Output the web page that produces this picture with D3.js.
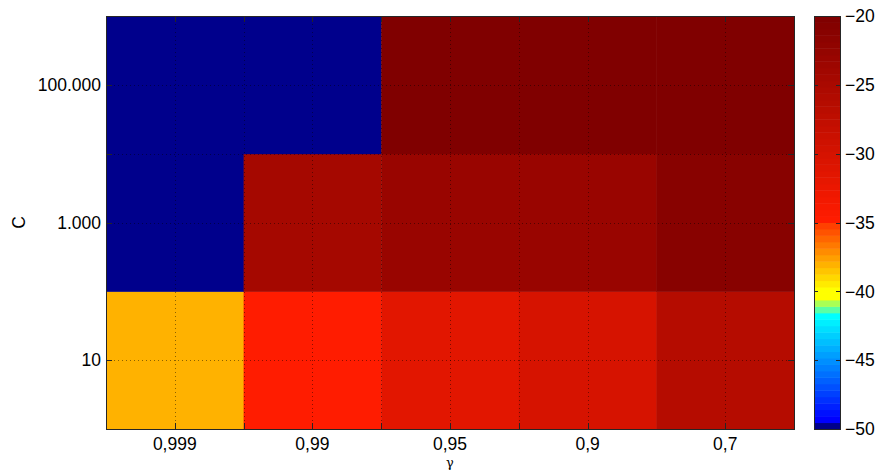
<!DOCTYPE html>
<html>
<head>
<meta charset="utf-8">
<script src="https://cdn.jsdelivr.net/npm/d3@7"></script>
<style>
  html, body { margin: 0; padding: 0; background: #fff; }
  svg { display: block; font-family: "Liberation Sans", Arial, Helvetica, sans-serif; }
</style>
</head>
<body>
<svg id="chart" width="875" height="471"></svg>
<script>
// heatmap: C vs gamma, colour = score

const gammaLabels = ['0,999', '0,99', '0,95', '0,9', '0,7']
const cLabels = ['10', '1.000', '100.000']   // bottom → top

// rows follow cLabels, columns follow gammaLabels
const row10 = [-38.0, -34.6, -31.4, -30.1, -26.3]
const row1000 = [-50, -24.3, -23.2, -23.1, -21.2]
const row100000 = [-50, -50, -20, -20, -20]
const values = [row10, row1000, row100000]

const xTickPos = [1, 1.5, 2, 2.5, 3, 3.5, 4, 5]
const yTickPos = [1, 2, 2.5, 3]
const cbarTicks = [-20, -25, -30, -35, -40, -45, -50]
const cRange = [-50, -20]
const nLevels = 64

const plot = { left: 106, right: 794, top: 16, bottom: 429 }
const cbar = { left: 814, right: 840 }

const svg = d3.select('#chart')

// colour map, 64 levels (non-uniform jet-like)
function levelColor(k) {
  const lerp = (a, b, t) => a.map((v, i) => Math.round(v + (b[i] - v) * t))
  let c
  if (k === 0) c = [0, 0, 140]
  else if (k <= 17) c = lerp([0, 0, 255], [0, 255, 255], (k - 1) / 16)
  else if (k === 18) c = [90, 255, 165]
  else if (k === 19) c = [170, 255, 85]
  else if (k <= 21) c = [255, 255, 0]
  else if (k <= 31) c = lerp([255, 235, 0], [255, 64, 0], (k - 22) / 9)
  else c = lerp([255, 28, 0], [128, 0, 0], (k - 32) / 31)
  return `rgb(${c[0]},${c[1]},${c[2]})`
}
const levelOf = d3.scaleQuantize().domain(cRange).range(d3.range(nLevels))
const color = v => levelColor(levelOf(Math.max(cRange[0], Math.min(cRange[1], v))))

const x = d3.scaleLinear().domain([0.5, gammaLabels.length + 0.5]).range([plot.left, plot.right])
const y = d3.scaleLinear().domain([0.5, cLabels.length + 0.5]).range([plot.bottom, plot.top])

// Cells
const cells = []
values.forEach((row, r) => row.forEach((v, c) => cells.push({ r: r + 1, c: c + 1, v })))

svg.append('g').attr('class', 'cells')
  .selectAll('rect')
  .data(cells)
  .join('rect')
  .attr('x', d => x(d.c - 0.5))
  .attr('y', d => y(d.r + 0.5))
  .attr('width', d => x(d.c + 0.5) - x(d.c - 0.5) + 0.5)
  .attr('height', d => y(d.r - 0.5) - y(d.r + 0.5) + 0.5)
  .attr('fill', d => color(d.v))

// Grid (dotted)
const grid = svg.append('g').attr('class', 'grid')
  .attr('stroke', '#000').attr('stroke-opacity', 0.45)
  .attr('stroke-width', 1).attr('stroke-dasharray', '1,3')
grid.selectAll('line.gx').data(xTickPos).join('line').attr('class', 'gx')
  .attr('x1', d => Math.round(x(d)) + 0.5).attr('x2', d => Math.round(x(d)) + 0.5)
  .attr('y1', plot.top).attr('y2', plot.bottom)
grid.selectAll('line.gy').data(yTickPos).join('line').attr('class', 'gy')
  .attr('y1', d => Math.round(y(d)) + 0.5).attr('y2', d => Math.round(y(d)) + 0.5)
  .attr('x1', plot.left).attr('x2', plot.right)

// Ticks (inward, all four sides)
const tickLen = 6
const ticks = svg.append('g').attr('stroke', '#262626').attr('stroke-width', 1)
xTickPos.forEach(t => {
  const px = Math.round(x(t)) + 0.5
  ticks.append('line').attr('x1', px).attr('x2', px).attr('y1', plot.bottom).attr('y2', plot.bottom - tickLen)
  ticks.append('line').attr('x1', px).attr('x2', px).attr('y1', plot.top).attr('y2', plot.top + tickLen)
})
yTickPos.forEach(t => {
  const py = Math.round(y(t)) + 0.5
  ticks.append('line').attr('y1', py).attr('y2', py).attr('x1', plot.left).attr('x2', plot.left + tickLen)
  ticks.append('line').attr('y1', py).attr('y2', py).attr('x1', plot.right).attr('x2', plot.right - tickLen)
})

// Box
svg.append('rect')
  .attr('x', plot.left + 0.5).attr('y', plot.top + 0.5)
  .attr('width', plot.right - plot.left).attr('height', plot.bottom - plot.top)
  .attr('fill', 'none').attr('stroke', '#262626').attr('stroke-width', 1)

// Tick labels
svg.append('g').selectAll('text')
  .data(gammaLabels)
  .join('text')
  .attr('x', (d, i) => x(i + 1))
  .attr('y', 450)
  .attr('text-anchor', 'middle')
  .attr('font-size', 17.5)
  .attr('fill', '#000')
  .text(d => d)

svg.append('g').selectAll('text')
  .data(cLabels)
  .join('text')
  .attr('x', 101)
  .attr('y', (d, i) => y(i + 1))
  .attr('dy', '0.36em')
  .attr('text-anchor', 'end')
  .attr('font-size', 17.5)
  .attr('fill', '#000')
  .text(d => d)

// Axis labels
svg.append('text')
  .attr('x', x(3)).attr('y', 467)
  .attr('text-anchor', 'middle')
  .attr('font-family', '"DejaVu Serif", "Liberation Serif", serif')
  .attr('font-size', 13)
  .text('γ')

svg.append('text')
  .attr('transform', `translate(25,${y(2)}) rotate(-90)`)
  .attr('text-anchor', 'middle')
  .attr('font-size', 17.5)
  .text('C')

// Colorbar
const cy = d3.scaleLinear().domain(cRange).range([plot.bottom, plot.top])
const step = (cRange[1] - cRange[0]) / nLevels
svg.append('g').attr('class', 'cbar')
  .selectAll('rect')
  .data(d3.range(nLevels))
  .join('rect')
  .attr('x', cbar.left)
  .attr('y', k => cy(cRange[0] + (k + 1) * step))
  .attr('width', cbar.right - cbar.left)
  .attr('height', k => cy(cRange[0] + k * step) - cy(cRange[0] + (k + 1) * step) + 0.5)
  .attr('fill', k => levelColor(k))

const cbTicks = svg.append('g').attr('stroke', '#262626').attr('stroke-width', 1)
cbarTicks.forEach(t => {
  const py = Math.round(cy(t)) + 0.5
  cbTicks.append('line').attr('x1', cbar.left).attr('x2', cbar.left + 4).attr('y1', py).attr('y2', py)
  cbTicks.append('line').attr('x1', cbar.right).attr('x2', cbar.right - 4).attr('y1', py).attr('y2', py)
})
svg.append('rect')
  .attr('x', cbar.left + 0.5).attr('y', plot.top + 0.5)
  .attr('width', cbar.right - cbar.left).attr('height', plot.bottom - plot.top)
  .attr('fill', 'none').attr('stroke', '#262626').attr('stroke-width', 1)

svg.append('g').selectAll('text')
  .data(cbarTicks)
  .join('text')
  .attr('x', cbar.right + 5)
  .attr('y', d => cy(d))
  .attr('dy', '0.36em')
  .attr('font-size', 17.5)
  .attr('fill', '#000')
  .text(d => d3.format('d')(d).replace('-', '\u2212'))
</script>
</body>
</html>
